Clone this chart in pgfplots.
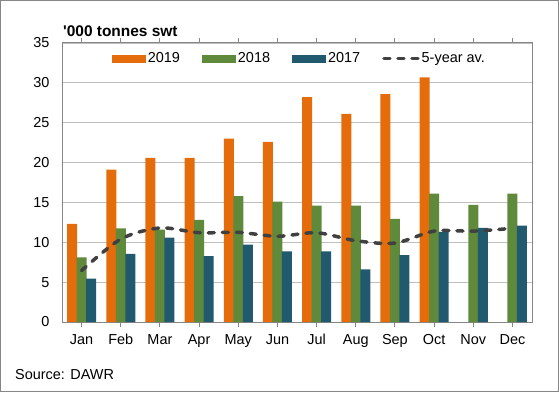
\documentclass[border=0pt]{standalone}
\usepackage{pgfplots}
\pgfplotsset{compat=1.18}
\usepackage{fontspec}
\setmainfont{Liberation Sans}
\definecolor{c19}{HTML}{E46C0A}
\definecolor{c18}{HTML}{5F8A3C}
\definecolor{c17}{HTML}{215A6E}
\definecolor{avg}{HTML}{404040}
\definecolor{axgray}{HTML}{868686}
\definecolor{gridgray}{HTML}{BFBFBF}
\begin{document}
\begin{tikzpicture}[x=1bp,y=1bp]
\draw[axgray,line width=1bp] (0.5,0.5) rectangle (558.5,391.5);
\begin{axis}[
  at={(62bp,70bp)}, anchor=south west,
  scale only axis, width=470bp, height=279bp,
  ymin=0, ymax=35, ytick={0,5,...,35},
  xmin=-0.5, xmax=11.5,
  xtick={0,...,11},
  xticklabels={Jan,Feb,Mar,Apr,May,Jun,Jul,Aug,Sep,Oct,Nov,Dec},
  ymajorgrids, grid style={gridgray,line width=0.8bp},
  axis line style={axgray,line width=1bp},
  font=\fontsize{14.5}{17}\selectfont,
  /pgf/number format/assume math mode=true,
  ytick style={draw=none},
  xtick style={axgray,line width=1bp},
  tick align=outside, major tick length=5bp,
  yticklabel style={xshift=-4bp},
  xticklabel style={yshift=-4bp},
  ybar, bar width=10bp,
  legend columns=4,
  legend style={at={(0.505,0.98)}, anchor=north, draw=none, fill=none,
    font=\fontsize{14.5}{17}\selectfont,
    /tikz/every even column/.append style={column sep=20bp}},
  legend cell align=left,
]
\addplot[fill=c19, draw=none, bar shift=-9.5bp,
  legend image code/.code={\fill[c19] (0bp,-4bp) rectangle (34bp,4bp);}]
  coordinates {(0,12.3) (1,19.1) (2,20.6) (3,20.6) (4,23.0) (5,22.6) (6,28.2) (7,26.1) (8,28.6) (9,30.7)};
\addlegendentry{2019}
\addplot[fill=c18, draw=none, bar shift=0bp,
  legend image code/.code={\fill[c18] (0bp,-4bp) rectangle (34bp,4bp);}]
  coordinates {(0,8.1) (1,11.75) (2,11.6) (3,12.8) (4,15.8) (5,15.1) (6,14.6) (7,14.6) (8,12.95) (9,16.1) (10,14.7) (11,16.1)};
\addlegendentry{2018}
\addplot[fill=c17, draw=none, bar shift=9.5bp,
  legend image code/.code={\fill[c17] (0bp,-4bp) rectangle (34bp,4bp);}]
  coordinates {(0,5.45) (1,8.55) (2,10.6) (3,8.25) (4,9.7) (5,8.85) (6,8.85) (7,6.6) (8,8.4) (9,11.3) (10,11.8) (11,12.1)};
\addlegendentry{2017}
\addplot[sharp plot, smooth, avg, line width=3.5bp, line cap=round,
  dash pattern=on 6bp off 8bp,
  legend image code/.code={\draw[avg, line width=3.5bp, line cap=round, dash pattern=on 6bp off 8bp] (2bp,0bp) -- (36bp,0bp);}]
  coordinates {(0,6.45) (1,10.4) (2,11.8) (3,11.2) (4,11.25) (5,10.75) (6,11.2) (7,10.2) (8,9.9) (9,11.4) (10,11.4) (11,11.75)};
\addlegendentry{5-year av.}
\end{axis}
\node[anchor=base west, inner sep=0pt, font=\fontsize{15.5}{18}\selectfont\bfseries] at (63,356) {\textquotesingle000 tonnes swt};
\node[anchor=base west, inner sep=0pt, font=\fontsize{14.5}{17}\selectfont] at (15,12.7) {Source: DAWR};
\end{tikzpicture}
\end{document}
